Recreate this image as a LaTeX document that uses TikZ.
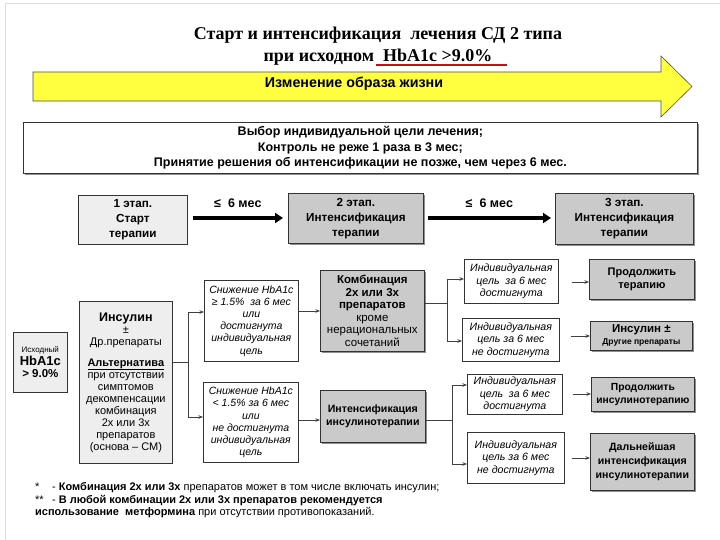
\documentclass[tikz,border=0pt]{standalone}
\usepackage{fontspec}
\setmainfont{Liberation Sans}
\newfontfamily\serifT{Liberation Serif}
\usetikzlibrary{arrows.meta,shadows}
\definecolor{lgray}{RGB}{238,238,238}
\definecolor{dgray}{RGB}{202,202,202}
\definecolor{ylw}{RGB}{255,255,64}
\definecolor{frm}{RGB}{222,222,234}
\definecolor{redu}{RGB}{200,16,16}
\tikzset{
  bx/.style={draw=black!80, line width=0.7pt, align=center, inner sep=1pt, anchor=north west},
  lightbx/.style={bx, fill=lgray},
  darkbx/.style={bx, fill=dgray, drop shadow={shadow xshift=1.3pt, shadow yshift=-1.3pt, fill=black!55, opacity=0.8}},
  whitebx/.style={bx, fill=white},
  conn/.style={draw=black!75, line width=0.6pt},
  arr/.style={conn, -{Stealth[length=4.5pt,width=3.5pt]}},
  bigarr/.style={line width=3.5pt, -{Triangle[length=8pt,width=10pt]}},
  itxt/.style={font=\itshape\fontsize{10.5}{12.2}\selectfont},
  ibx/.style={whitebx, font=\itshape\fontsize{10.6}{12.5}\selectfont},
  btxt/.style={font=\bfseries\fontsize{11}{13}\selectfont},
}
\begin{document}
\begin{tikzpicture}[x=1pt,y=-1pt]
\useasboundingbox (0,0) rectangle (720,540);
\fill[white] (0,0) rectangle (720,540);
% slide frame
\draw[frm, line width=0.8pt] (5,540) -- (5,3) -- (720,3);

% title
\node[font=\serifT\bfseries\fontsize{18}{20}\selectfont, anchor=base, inner sep=0pt] (t1) at (378,40) {Старт и интенсификация\ \ лечения СД 2 типа};
\node[font=\serifT\bfseries\fontsize{18}{20}\selectfont, anchor=base, inner sep=0pt] (t2) at (378,62) {при исходном\ \ HbA1c >9.0\%};
\draw[redu, line width=2pt] (376,65.5) -- (507,65.5);

% yellow arrow
\filldraw[fill=ylw, draw=black!70, line width=0.6pt] (33,72) -- (661,72) -- (661,56) -- (692,86.5) -- (661,117) -- (661,101) -- (33,101) -- cycle;
\node[font=\bfseries\fontsize{14.3}{16}\selectfont] (life) at (354,84) {Изменение образа жизни};

% goal box
\node[whitebx, minimum width=674pt, minimum height=51pt, font=\bfseries\fontsize{12.5}{15.5}\selectfont,
      drop shadow={shadow xshift=1.2pt, shadow yshift=-1.2pt, fill=black!55, opacity=0.8}] (goal) at (23,122)
  {Выбор индивидуальной цели лечения;\\ Контроль не реже 1 раза в 3 мес;\\ Принятие решения об интенсификации не позже, чем через 6 мес.};

% stages
\node[lightbx, minimum width=109pt, minimum height=49pt, font=\bfseries\fontsize{11.7}{15}\selectfont] (s1) at (78,195) {1 этап.\\ Старт\\ терапии};
\node[darkbx, minimum width=135pt, minimum height=50pt, font=\bfseries\fontsize{11.7}{15}\selectfont] (s2) at (288,193) {2 этап.\\ Интенсификация\\ терапии};
\node[darkbx, minimum width=138pt, minimum height=51pt, font=\bfseries\fontsize{11.7}{15}\selectfont] (s3) at (555,193) {3 этап.\\ Интенсификация\\ терапии};
\draw[bigarr] ([xshift=5pt]s1.east |- 0,218) -- ([xshift=-5pt]s2.west |- 0,218) node[midway, above=5pt, font=\bfseries\fontsize{12.5}{14}\selectfont, black] (l1) {≤\ \ 6 мес};
\draw[bigarr] ([xshift=4pt]s2.east |- 0,218) -- ([xshift=-4pt]s3.west |- 0,218) node[midway, above=5pt, font=\bfseries\fontsize{12.5}{14}\selectfont, black] (l2) {≤\ \ 6 мес};

% left
\node[lightbx, minimum width=54pt, minimum height=60pt] (ish) at (13,332)
  {{\fontsize{8}{10}\selectfont Исходный}\\[1pt] {\bfseries\fontsize{13}{15}\selectfont HbA1c}\\ {\bfseries\fontsize{11.5}{14}\selectfont > 9.0\%}};
\node[lightbx, minimum width=93pt, minimum height=162pt, font=\fontsize{11}{12}\selectfont] (ins) at (79,301)
  {{\bfseries\fontsize{12.5}{14}\selectfont Инсулин}\\ ±\\ Др.препараты\\[9pt] \underline{\textbf{Альтернатива}}\\ при отсутствии\\ симптомов\\ декомпенсации\\ комбинация\\ 2х или 3х\\ препаратов\\ (основа – СМ)};

\node[whitebx, minimum width=94pt, minimum height=81pt, itxt] (sn1) at (204,280)
  {Снижение HbA1c\\ ≥ 1.5\%\ \ за 6 мес\\ или\\ достигнута\\ индивидуальная\\ цель};
\node[whitebx, minimum width=95pt, minimum height=80pt, itxt] (sn2) at (203,382)
  {Снижение HbA1c\\ < 1.5\% за 6 мес\\ или\\ не достигнута\\ индивидуальная\\ цель};

\coordinate (b1) at (188,362);
\draw[conn] (ins.east |- b1) -- (b1);
\draw[arr] (b1 |- 0,312) -- (sn1.west |- 0,312);
\draw[arr] (b1 |- 0,417) -- (sn2.west |- 0,417);
\draw[conn] (b1 |- 0,312) -- (b1 |- 0,417);

% middle
\node[darkbx, minimum width=104pt, minimum height=81pt, font=\fontsize{11.5}{12.6}\selectfont] (komb) at (320,270)
  {\textbf{Комбинация}\\ \textbf{2х или 3х}\\ \textbf{препаратов}\\ кроме\\ нерациональных\\ сочетаний};
\node[darkbx, minimum width=105pt, minimum height=52pt, font=\bfseries\fontsize{10.6}{13}\selectfont] (intens) at (320,390)
  {Интенсификация\\ инсулинотерапии};
\draw[arr, line width=0.9pt] (sn1.east |- 0,311) -- (komb.west |- 0,311);
\draw[arr, line width=0.9pt] (sn2.east |- 0,420) -- (intens.west |- 0,420);

% individual boxes
\node[ibx, minimum width=94pt, minimum height=44pt] (i1) at (464,259) {Индивидуальная\\ цель\ \ за 6 мес\\ достигнута};
\node[ibx, minimum width=97pt, minimum height=43pt] (i2) at (462,318) {Индивидуальная\\ цель за 6 мес\\ не достигнута};
\node[ibx, minimum width=95pt, minimum height=40pt] (i3) at (467,374) {Индивидуальная\\ цель\ \ за 6 мес\\ достигнута};
\node[ibx, minimum width=97pt, minimum height=51pt] (i4) at (467,432) {Индивидуальная\\ цель за 6 мес\\ не достигнута};

\coordinate (b2) at (447,303);
\draw[conn] (komb.east |- b2) -- (b2);
\draw[conn] (b2 |- 0,279) -- (b2 |- 0,341);
\draw[arr] (b2 |- 0,279) -- (i1.west |- 0,279);
\draw[arr] (b2 |- 0,341) -- (i2.west |- 0,341);

\coordinate (b3) at (452,420);
\draw[conn] (intens.east |- b3) -- (b3);
\draw[conn] (b3 |- 0,385) -- (b3 |- 0,464);
\draw[arr] (b3 |- 0,385) -- (i3.west |- 0,385);
\draw[arr] (b3 |- 0,464) -- (i4.west |- 0,464);

% results
\node[darkbx, minimum width=105pt, minimum height=40pt, btxt] (p1) at (589,259) {Продолжить\\ терапию};
\node[darkbx, minimum width=102pt, minimum height=29pt, font=\bfseries] (p2) at (590,321)
  {{\fontsize{11.5}{13}\selectfont Инсулин ±}\\ {\fontsize{8.5}{10}\selectfont Другие препараты}};
\node[darkbx, minimum width=103pt, minimum height=34pt, font=\bfseries\fontsize{10.3}{13}\selectfont] (p3) at (591,377) {Продолжить\\ инсулинотерапию};
\node[darkbx, minimum width=104pt, minimum height=57pt, font=\bfseries\fontsize{10.6}{14}\selectfont] (p4) at (590,433) {Дальнейшая\\ интенсификация\\ инсулинотерапии};

\draw[arr] ([xshift=13pt]i1.east |- 0,282) -- (p1.west |- 0,282);
\draw[arr] ([xshift=11pt]i2.east |- 0,336) -- (p2.west |- 0,336);
\draw[arr] ([xshift=10pt]i3.east |- 0,394) -- (p3.west |- 0,394);
\draw[arr] ([xshift=7pt]i4.east |- 0,458) -- (p4.west |- 0,458);

% footnotes
\node[anchor=west, inner sep=0pt, font=\fontsize{11}{12}\selectfont] (f1) at (35,488)
  {\makebox[17pt][l]{*}-\ \textbf{Комбинация 2х или 3х} препаратов может в том числе включать инсулин;};
\node[anchor=west, inner sep=0pt, font=\fontsize{11}{12}\selectfont] (f2) at (35,500.5)
  {\makebox[17pt][l]{**}-\ \textbf{В любой комбинации 2х или 3х препаратов рекомендуется}};
\node[anchor=west, inner sep=0pt, font=\fontsize{11}{12}\selectfont] (f3) at (35,513)
  {\textbf{использование\ \ метформина} при отсутствии противопоказаний.};
\end{tikzpicture}
\end{document}
